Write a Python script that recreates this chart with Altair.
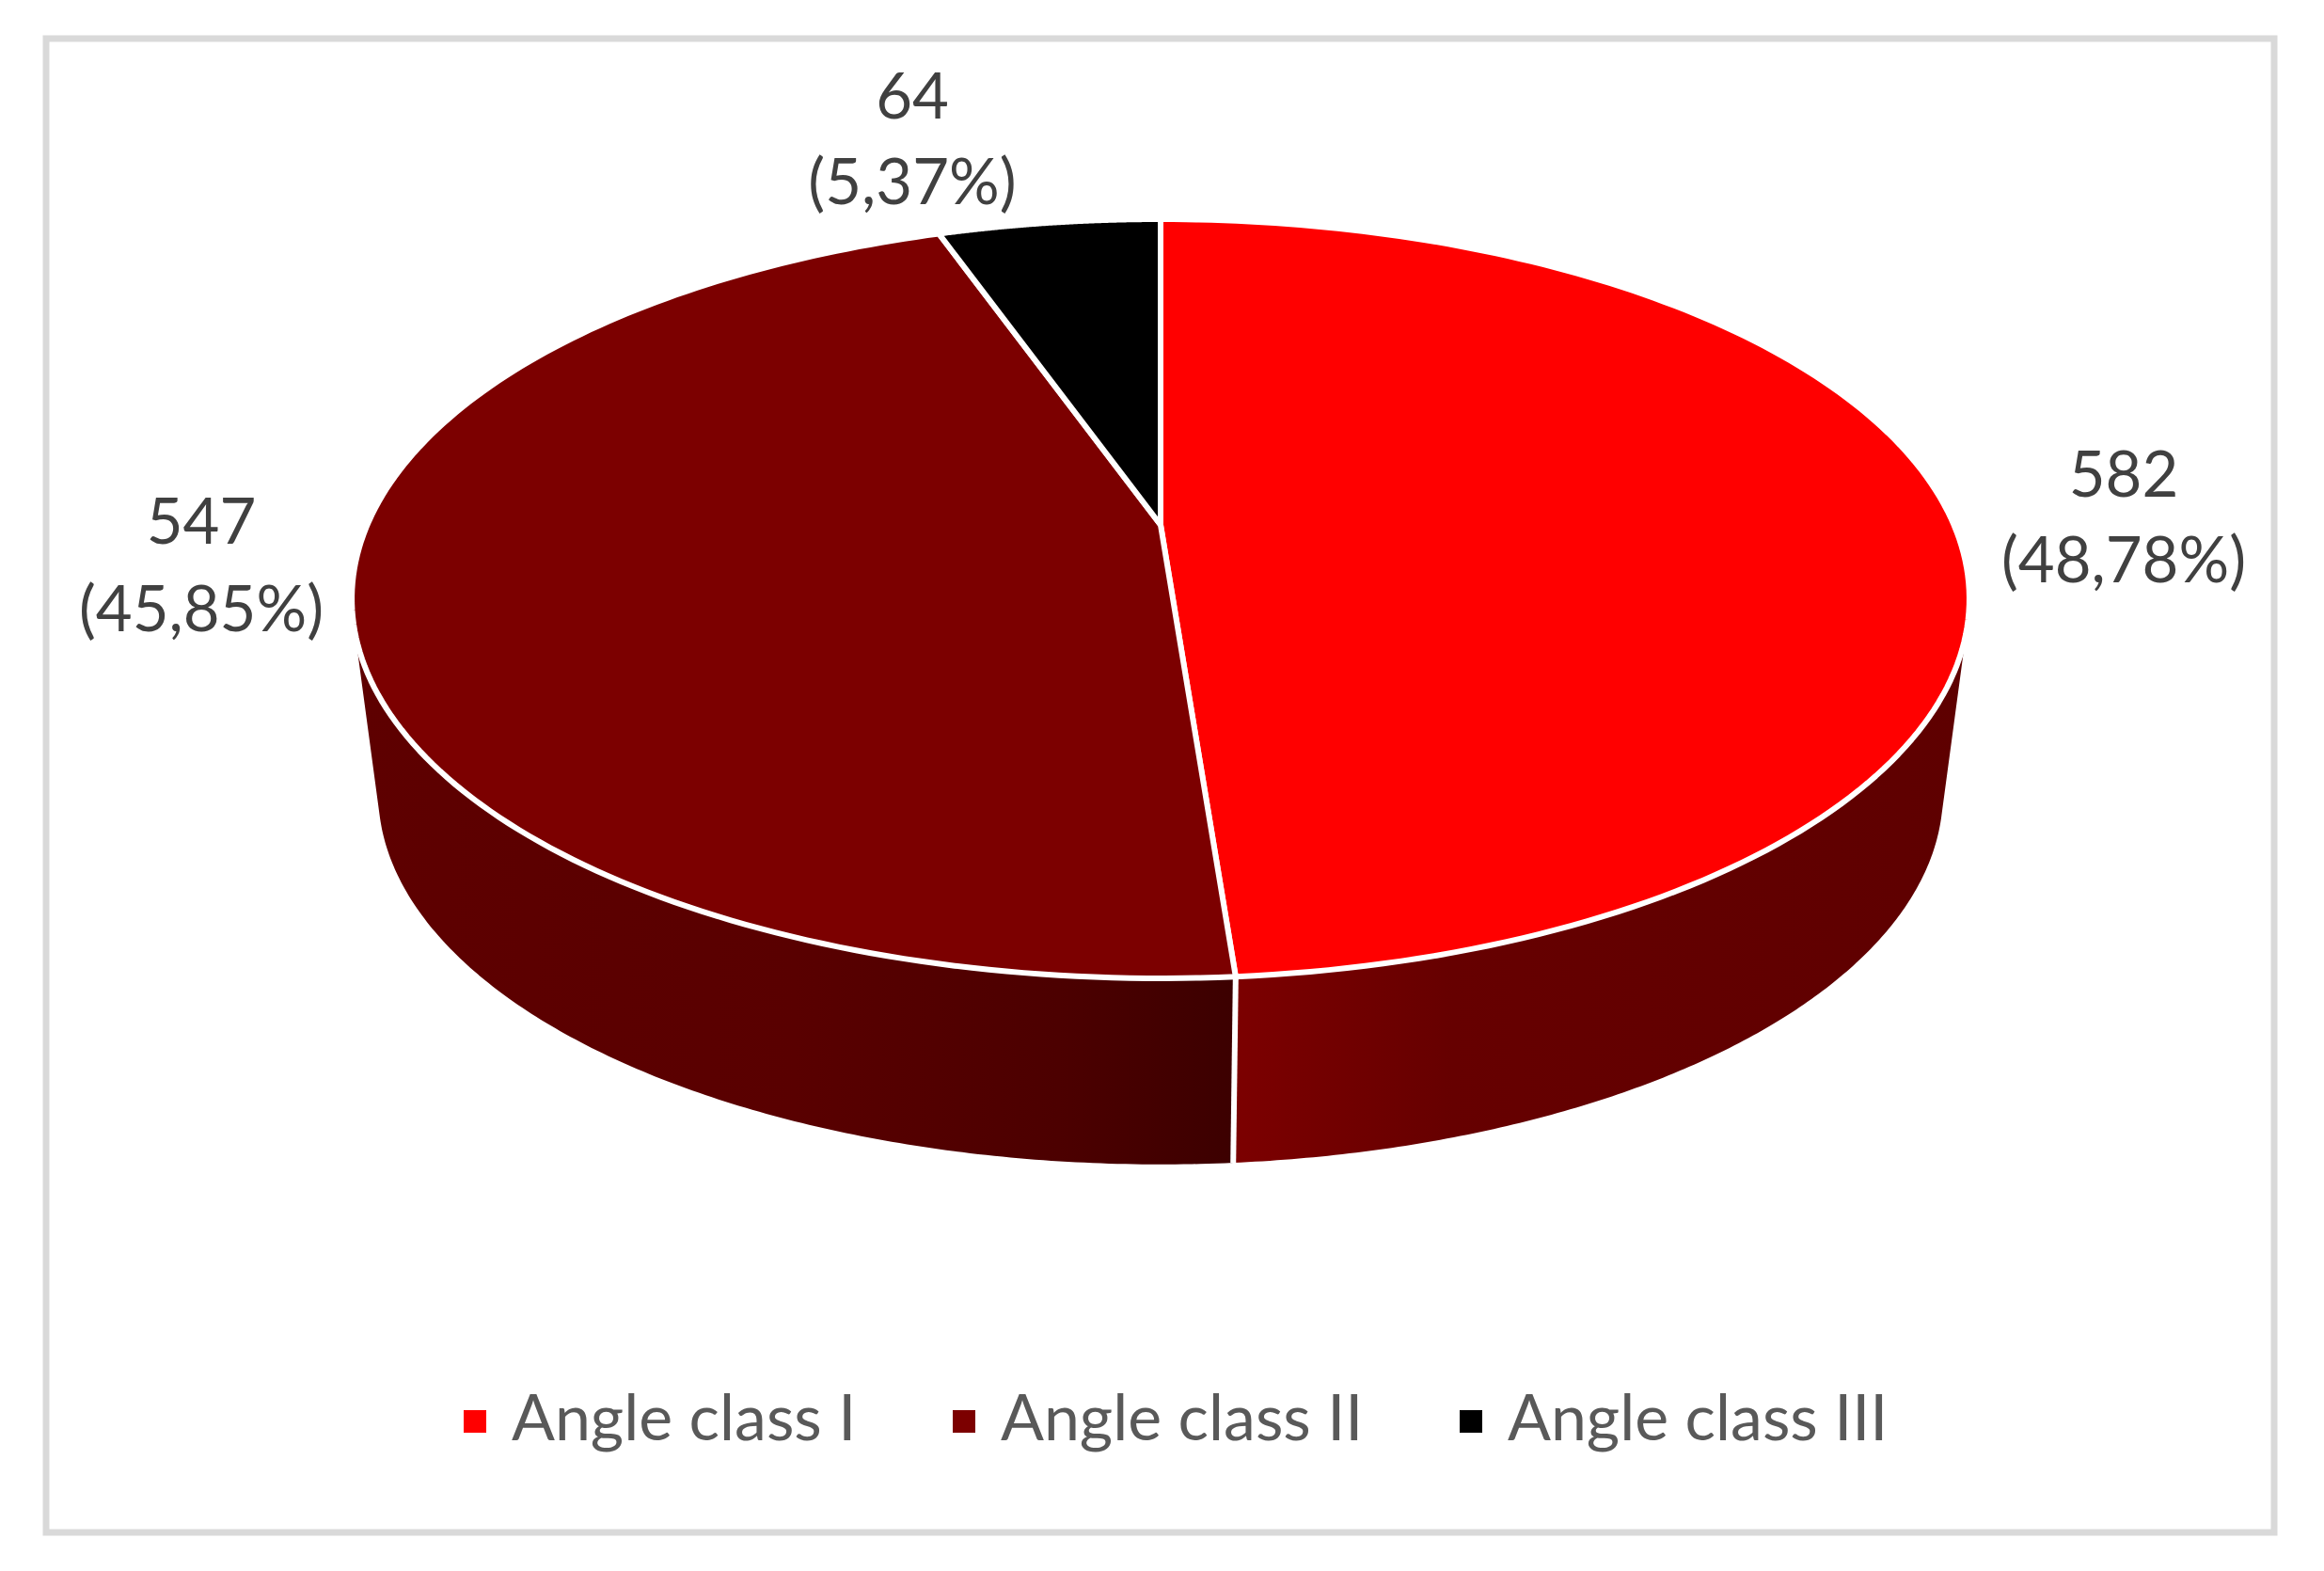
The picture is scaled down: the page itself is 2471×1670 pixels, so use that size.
import math
import altair as alt
import pandas as pd

classes = ["Angle class I", "Angle class II", "Angle class III"]
counts = [582, 547, 64]
value_labels = ["582", "547", "64"]
percent_labels = ["(48,78%)", "(45,85%)", "(5,37%)"]
slice_colors = ["#ff0000", "#7c0000", "#000000"]

PAGE = 8
W, H = 2440, 1640
TOTAL = sum(counts)
K = -0.1945


def project(theta, ax, ay, a, b):
    sx, sy = math.sin(theta), -math.cos(theta)
    d = 1 + K * sy
    return ax + a * sx / d, ay + b * sy / d


def top(theta):
    return project(theta, 1234, 558, 843.5, 388.2)


def low(theta):
    return project(theta, 1234, 766, 816, 380)


def arc(fn, a0, a1, n=160):
    return [fn(a0 + (a1 - a0) * i / n) for i in range(n + 1)]


# slices of the top face
rows, start = [], 0.0
bounds = []
for name, count in zip(classes, counts):
    end = start + count / TOTAL * 2 * math.pi
    bounds.append((start, end))
    pts = [(1234, 558)] + arc(top, start, end) + [(1234, 558)]
    for i, (x, y) in enumerate(pts):
        rows.append({"cls": name, "x": x, "y": y, "i": i})
    start = end
slices = pd.DataFrame(rows)

split = bounds[0][1]
edge_top = math.radians(106)
edge_low = math.radians(104.6)


def wall(top0, top1, low0, low1):
    pts = arc(top, top0, top1) + arc(low, low1, low0)
    return pd.DataFrame([{"x": x, "y": y, "i": i} for i, (x, y) in enumerate(pts)])


def grad(stops):
    return alt.Gradient(
        gradient="linear", x1=0, x2=1, y1=0, y2=0,
        stops=[alt.GradientStop(offset=o, color=c) for o, c in stops],
    )


xs = alt.Scale(domain=[PAGE, PAGE + W], range=[0, W], nice=False, zero=False)
ys = alt.Scale(domain=[PAGE + H, PAGE], range=[H, 0], nice=False, zero=False)
X = alt.X("x:Q", scale=xs, axis=None)
Y = alt.Y("y:Q", scale=ys, axis=None)

wall_right = alt.Chart(wall(split, edge_top, split, edge_low)).mark_line(
    strokeWidth=0,
    fill=grad([(0, "#7c0000"), (0.3, "#660000"), (1, "#5e0000")]),
).encode(x=X, y=Y, order="i:Q")
wall_left = alt.Chart(
    wall(2 * math.pi - edge_top, split, 2 * math.pi - edge_low, split)
).mark_line(
    strokeWidth=0,
    fill=grad([(0, "#5e0000"), (0.5, "#590000"), (0.8, "#4c0000"), (1, "#3c0000")]),
).encode(x=X, y=Y, order="i:Q")

sx0, sy0 = top(split)
sx1, sy1 = low(split)
separator = alt.Chart(pd.DataFrame({"x": [sx0, sx1], "y": [sy0, sy1], "i": [0, 1]})).mark_line(
    stroke="#ffffff", strokeWidth=6
).encode(x=X, y=Y, order="i:Q")

top_face = alt.Chart(slices).mark_line(stroke="#ffffff", strokeWidth=6, strokeJoin="round").encode(
    x=X, y=Y, order="i:Q",
    fill=alt.Fill(
        "cls:N",
        scale=alt.Scale(domain=classes, range=slice_colors),
        legend=alt.Legend(
            title=None, orient="none", legendX=463, legendY=1469,
            columns=3, columnPadding=80, symbolType="square", symbolSize=576,
            symbolStrokeWidth=0, symbolStrokeColor="transparent", labelFont="Lato", labelFontSize=68,
            labelColor="#595959", labelOffset=5, labelLimit=600, padding=0,
        ),
    ),
)

label_anchor = {"582": (2258, 528, 619), "547": (214, 578, 671), "64": (970, 126, 217)}
label_rows = []
for v, p in zip(value_labels, percent_labels):
    ax, y1, y2 = label_anchor[v]
    label_rows.append({"t": v, "x": ax, "y": y1})
    label_rows.append({"t": p, "x": ax, "y": y2})
labels = alt.Chart(pd.DataFrame(label_rows)).mark_text(
    font="Lato", fontSize=67, color="#404040", align="center", baseline="alphabetic"
).encode(x=X, y=Y, text="t:N")

frame = alt.Chart(pd.DataFrame({"x": [49], "x2": [2418], "y": [41], "y2": [1629]})).mark_rect(
    fillOpacity=0, stroke="#d9d9d9", strokeWidth=7
).encode(x=X, x2="x2:Q", y=Y, y2="y2:Q")

chart = (
    alt.layer(frame, wall_right, wall_left, separator, top_face, labels)
    .properties(width=W, height=H, padding=0, background="#ffffff")
    .configure_view(stroke=None)
)
chart.save("out.html", embed_options={"renderer": "svg", "actions": False})
